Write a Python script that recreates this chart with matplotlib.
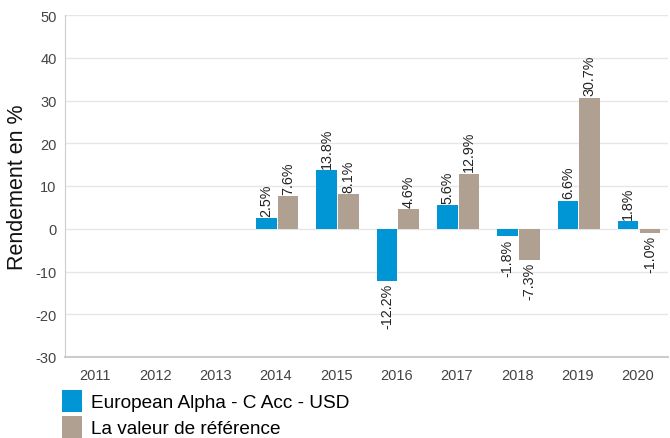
import matplotlib
matplotlib.use("Agg")
import matplotlib.pyplot as plt
import numpy as np
from matplotlib.patches import Patch

plt.rcParams['font.family'] = ['Liberation Sans', 'DejaVu Sans']
plt.rcParams['axes.unicode_minus'] = False

years = ['2011', '2012', '2013', '2014', '2015', '2016', '2017', '2018', '2019', '2020']
fund = [None, None, None, 2.5, 13.8, -12.2, 5.6, -1.8, 6.6, 1.8]
bench = [None, None, None, 7.6, 8.1, 4.6, 12.9, -7.3, 30.7, -1.0]
series_names = ['European Alpha - C Acc - USD', 'La valeur de référence']
colors = ['#0096D6', '#B0A092']

fig = plt.figure(figsize=(6.7, 4.39), dpi=100)
ax = fig.add_axes([65/670, 1-358/439, 603/670, 342/439])

x = np.arange(len(years))
w = 0.34
for vals, off, col in [(fund, -w/2 + 0.01, colors[0]), (bench, w/2 + 0.03, colors[1])]:
    for xi, v in zip(x, vals):
        if v is None:
            continue
        ax.bar(xi + off, v, width=w, color=col, zorder=3)
        lab = f"{v:.1f}%"
        if v >= 0:
            ax.text(xi + off, v + 0.5, lab, rotation=90, ha='center', va='bottom', fontsize=10.3, color='#222222', zorder=4)
        else:
            ax.text(xi + off, v - 0.5, lab, rotation=90, ha='center', va='top', fontsize=10.3, color='#222222', zorder=4)

ax.set_xlim(-0.5, len(years) - 0.5)
ax.set_ylim(-30, 50)
ax.set_yticks(range(-30, 51, 10))
ax.set_xticks(x)
ax.set_xticklabels(years)
ax.tick_params(axis='both', length=0, labelsize=10.5, colors='#444444')
ax.tick_params(axis='x', pad=8)
ax.tick_params(axis='y', pad=6)
ax.grid(axis='y', color='#e6e6e6', linewidth=1, zorder=0)
for s in ['top', 'right']:
    ax.spines[s].set_visible(False)
for s in ['left', 'bottom']:
    ax.spines[s].set_color('#cccccc')
ax.spines['bottom'].set_linewidth(1.5)
ax.set_ylabel('Rendement en %', fontsize=15.5, color='#111111')
ax.yaxis.set_label_coords(-37/603, 0.5)

handles = [Patch(facecolor=c, edgecolor='none') for c in colors]
fig.legend(handles, series_names, loc='upper left', bbox_to_anchor=(62/670, 1-391/439),
           frameon=False, fontsize=13.7, handlelength=1.05, handleheight=1.4,
           handletextpad=0.45, labelspacing=0.22, borderaxespad=0, borderpad=0)

fig.savefig('out.png', dpi=100)
